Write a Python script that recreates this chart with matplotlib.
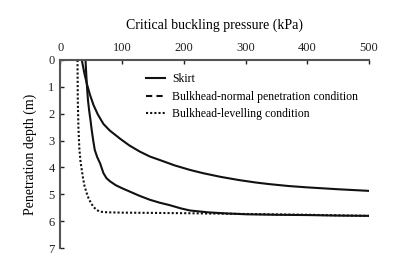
import matplotlib.pyplot as plt
from matplotlib.lines import Line2D

plt.rcParams['font.family'] = 'Liberation Serif'

# Skirt
skirt_p = [35, 39, 43, 48, 54, 61, 70, 80, 97, 112, 129, 145, 161, 185, 210, 231, 260, 290, 317, 339, 370, 400, 450, 500]
skirt_d = [0, 0.48, 0.87, 1.28, 1.68, 2.03, 2.38, 2.62, 2.93, 3.18, 3.41, 3.59, 3.72, 3.92, 4.09, 4.21, 4.35, 4.47, 4.56, 4.62, 4.69, 4.74, 4.81, 4.87]

# Bulkhead-normal penetration condition
normal_p = [41, 42, 43, 45, 47, 49, 51, 53.5, 56, 60, 64.5, 70, 75, 81, 90, 100, 113, 128, 145, 161, 177, 195, 210, 240, 270, 300, 350, 400, 450, 500]
normal_d = [0, 0.45, 0.87, 1.5, 1.9, 2.23, 2.6, 3.0, 3.35, 3.62, 3.84, 4.21, 4.4, 4.52, 4.66, 4.77, 4.9, 5.05, 5.2, 5.31, 5.4, 5.52, 5.6, 5.67, 5.71, 5.74, 5.76, 5.77, 5.79, 5.8]

# Bulkhead-levelling condition
level_p = [28, 28.5, 29.5, 31, 33, 35, 37, 39.5, 43, 46, 50, 54, 59, 64, 70, 80, 100, 200, 300, 400, 500]
level_d = [0, 1.5, 2.5, 3.3, 3.8, 4.1, 4.4, 4.7, 4.96, 5.15, 5.33, 5.47, 5.58, 5.64, 5.66, 5.67, 5.68, 5.7, 5.73, 5.76, 5.8]

fig = plt.figure(figsize=(3.96, 2.62), dpi=100)
ax = fig.add_axes([0.152, 0.053, 0.78, 0.718])

ax.plot(skirt_p, skirt_d, color='#111111', lw=1.5)
ax.plot(normal_p, normal_d, color='#111111', lw=1.5)
ax.plot(level_p, level_d, color='#111111', lw=1.5, linestyle=(0, (1, 1)))

ax.set_xlim(0, 500)
ax.set_ylim(7, 0)
ax.xaxis.tick_top()
ax.xaxis.set_label_position('top')
ax.set_xticks([0, 100, 200, 300, 400, 500])
ax.set_yticks(range(8))
ax.set_xlabel('Critical buckling pressure (kPa)', fontsize=10, labelpad=10)
ax.set_ylabel('Penetration depth (m)', fontsize=10, labelpad=8)
ax.tick_params(direction='in', length=3, width=1, labelsize=9, colors='#222222', pad=4)

for s in ['right', 'bottom']:
    ax.spines[s].set_visible(False)
for s in ['left', 'top']:
    ax.spines[s].set_color('#555555')
    ax.spines[s].set_linewidth(1.5)

handles = [
    Line2D([], [], color='#111111', lw=1.5),
    Line2D([], [], color='#111111', lw=1.5, linestyle=(0, (3, 2))),
    Line2D([], [], color='#111111', lw=1.5, linestyle=(0, (1, 1))),
]
labels = ['Skirt', 'Bulkhead-normal penetration condition', 'Bulkhead-levelling condition']
ax.legend(handles, labels, loc='upper left', bbox_to_anchor=(0.26, 0.96), frameon=False,
          fontsize=8.5, handlelength=1.6, handletextpad=0.6, labelspacing=0.45, borderpad=0)

fig.savefig('out.png', dpi=100)
